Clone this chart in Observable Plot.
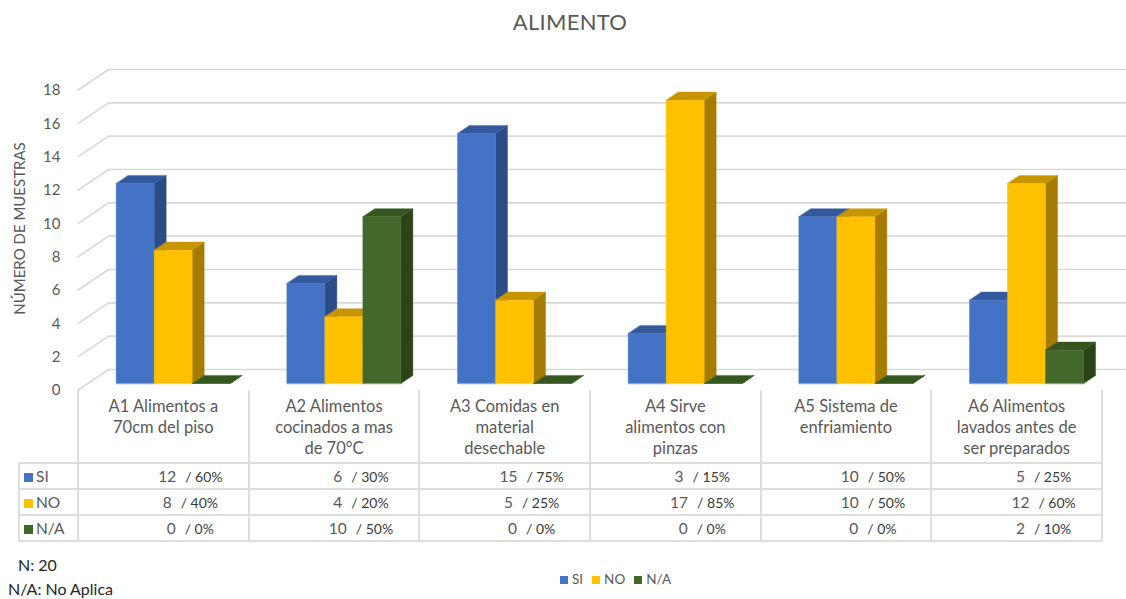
<!DOCTYPE html>
<html>
<head>
<meta charset="utf-8">
<script src="https://cdn.jsdelivr.net/npm/d3@7"></script>
<script src="https://cdn.jsdelivr.net/npm/@observablehq/plot@0.6"></script>
<style>
  body { margin: 0; background: #fff; font-family: Lato, "Open Sans", sans-serif; }
  #wrap { position: relative; width: 1126px; height: 599px; overflow: hidden; }
  #title { position: absolute; left: 0; top: 8px; width: 1140px; text-align: center;
           font-size: 22px; color: #595959; letter-spacing: 0.3px; }
  #chart { position: absolute; left: 0; top: 0; }
  #datatable { position: absolute; left: 18px; top: 390px; border-collapse: collapse;
               table-layout: fixed; color: #595959; }
  #datatable td { padding: 0; border: 2px solid #dedede; }
  #datatable tr.cats td { border-top: none; vertical-align: top; text-align: center;
                          font-size: 16.5px; line-height: 21px; padding-top: 6px; height: 66px; }
  #datatable tr.cats td.corner { border: none; }
  #datatable tr.vals td { height: 24px; font-size: 15.5px; text-align: center; padding-left: 54px; }
  #datatable tr.vals td.head { text-align: left; padding-left: 4px; font-size: 15.5px; }
  .sw { display: inline-block; width: 9px; height: 9px; margin-right: 3px; }
  .n { margin-right: 9px; }
  .p { font-size: 14px; color: #3a3a3a; }
  #legend { position: absolute; left: 560px; top: 571px; font-size: 13.5px; color: #595959; }
  #legend span.item { margin-right: 9px; }
  #legend .sw { width: 8px; height: 8px; margin-right: 4px; }
  .foot { position: absolute; font-size: 16px; color: #262626; }
</style>
</head>
<body>
<div id="wrap">
  <div id="title">ALIMENTO</div>
  <div id="chart"></div>
  <table id="datatable"></table>
  <div id="legend"></div>
  <div class="foot" style="left:18px; top:555px;">N: 20</div>
  <div class="foot" style="left:8px; top:579px;">N/A: No Aplica</div>
</div>
<script>
// Inspection items (categories) and answers per item
const categories = [
  "A1 Alimentos a\n70cm del piso",
  "A2 Alimentos\ncocinados a mas\nde 70°C",
  "A3 Comidas en\nmaterial\ndesechable",
  "A4 Sirve\nalimentos con\npinzas",
  "A5 Sistema de\nenfriamiento",
  "A6 Alimentos\nlavados antes de\nser preparados"
];
const seriesNames = ["SI", "NO", "N/A"];
const si = [12, 6, 15, 3, 10, 5];
const no = [8, 4, 5, 17, 10, 12];
const na = [0, 10, 0, 0, 0, 2];
const yTicks = [0, 2, 4, 6, 8, 10, 12, 14, 16, 18];
const totalSamples = 20;

const seriesValues = [si, no, na];
const palette = [
  {front: "#4472C4", top: "#34599C", side: "#2B4C87"},
  {front: "#FFC000", top: "#C69500", side: "#A67C00"},
  {front: "#43682B", top: "#36561F", side: "#2A4418"}
];

// Oblique projection of the depth axis, in data units (category, count)
const DEPTH_X = 0.182, DEPTH_Y = 1.26;
const K_FRONT = 0.333, K_BACK = 0.72;   // depth of bar front / back planes
const BAR_W = 0.2227;                    // bar width in category units
const GROUP_PAD = (1 - 3 * BAR_W) / 2;

// Build the three visible faces of every bar as polygons in data space
const faces = [];
seriesValues.forEach((vals, j) => {
  vals.forEach((v, i) => {
    const x0 = i + GROUP_PAD + j * BAR_W, x1 = x0 + BAR_W;
    const fx = K_FRONT * DEPTH_X, fy = K_FRONT * DEPTH_Y;
    const bx = K_BACK * DEPTH_X, by = K_BACK * DEPTH_Y;
    const id = `${i}-${j}`;
    const poly = (face, pts) => pts.forEach(([x, y]) => faces.push({id: id + face, series: j, face, x, y}));
    poly("side", [[x1 + fx, fy], [x1 + fx, v + fy], [x1 + bx, v + by], [x1 + bx, by]]);
    poly("top", [[x0 + fx, v + fy], [x1 + fx, v + fy], [x1 + bx, v + by], [x0 + bx, v + by]]);
    poly("front", [[x0 + fx, fy], [x0 + fx, v + fy], [x1 + fx, v + fy], [x1 + fx, fy]]);
  });
});

const barMarks = [];
seriesValues.forEach((_, j) => {
  for (const face of ["side", "top", "front"]) {
    const c = palette[j][face];
    barMarks.push(Plot.line(faces.filter(d => d.series === j && d.face === face), {
      x: "x", y: "y", z: "id", fill: c, stroke: c, strokeWidth: 0.4, curve: "linear-closed"
    }));
  }
});

const gridColor = "#d9d9d9";
const chart = Plot.plot({
  width: 1126,
  height: 400,
  marginTop: 90,
  marginBottom: 10,
  marginLeft: 77,
  marginRight: 25,
  style: {fontFamily: "Lato, 'Open Sans', sans-serif", fontSize: "15px", color: "#595959", background: "transparent", overflow: "hidden"},
  x: {type: "linear", domain: [0, categories.length], axis: null},
  y: {domain: [0, 18], ticks: yTicks, tickSize: 0, tickPadding: 17, label: null, tickFormat: d3.format("d")},
  marks: [
    // back wall gridlines
    Plot.ruleY(yTicks, {y: d => d + DEPTH_Y, x1: DEPTH_X, x2: categories.length + DEPTH_X, stroke: gridColor, strokeWidth: 1.6}),
    // side wall (depth) lines
    Plot.link(yTicks, {x1: 0, y1: d => d, x2: DEPTH_X, y2: d => d + DEPTH_Y, stroke: gridColor, strokeWidth: 1.6}),
    ...barMarks,
    Plot.text(["NÚMERO DE MUESTRAS"], {frameAnchor: "left", textAnchor: "middle", rotate: -90, dx: -57, dy: -12, fontSize: 15, fill: "#595959"})
  ]
});
document.getElementById("chart").appendChild(chart);

// Data table under the chart
const table = d3.select("#datatable");
const cg = table.append("colgroup");
cg.append("col").style("width", "59px");
categories.forEach(() => cg.append("col").style("width", (1024 / categories.length) + "px"));
const catRow = table.append("tr").attr("class", "cats");
catRow.append("td").attr("class", "corner");
categories.forEach(c => catRow.append("td").html(c.split("\n").join("<br>")));
seriesValues.forEach((vals, j) => {
  const tr = table.append("tr").attr("class", "vals");
  const h = tr.append("td").attr("class", "head");
  h.append("span").attr("class", "sw").style("background", palette[j].front);
  h.append("span").text(seriesNames[j]);
  vals.forEach(v => {
    const td = tr.append("td");
    td.append("span").attr("class", "n").text(v);
    td.append("span").attr("class", "p").text("/ " + Math.round(v / totalSamples * 100) + "%");
  });
});

// Legend
const legend = d3.select("#legend");
seriesNames.forEach((s, j) => {
  const it = legend.append("span").attr("class", "item");
  it.append("span").attr("class", "sw").style("background", palette[j].front);
  it.append("span").text(s);
});
</script>
</body>
</html>
